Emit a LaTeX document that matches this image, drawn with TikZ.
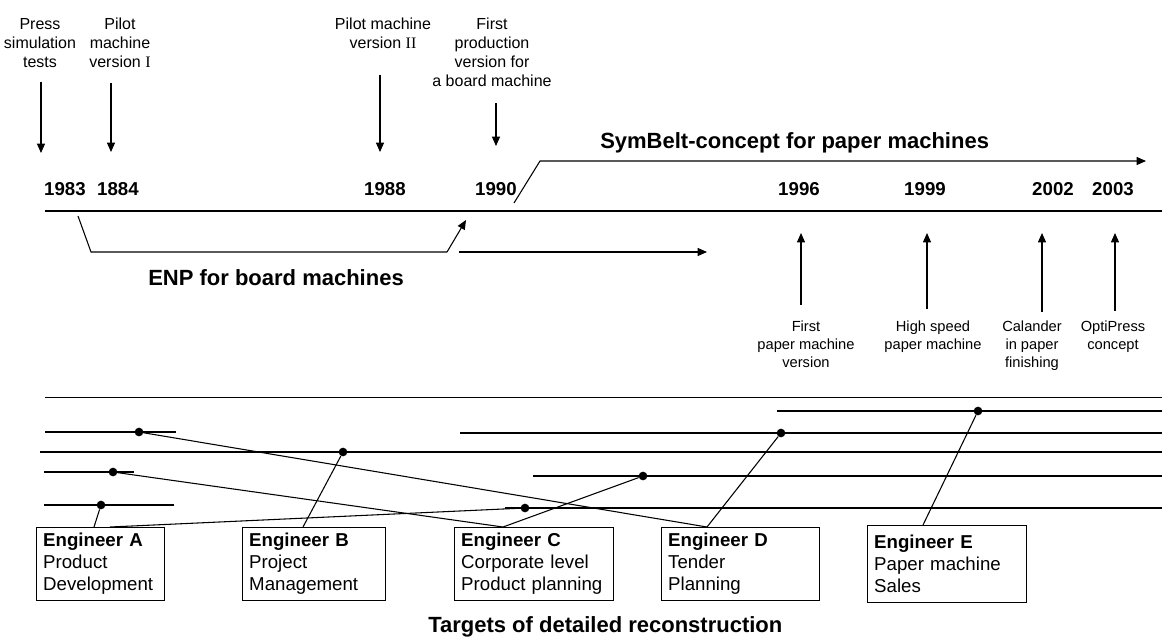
\documentclass[tikz,border=0pt]{standalone}
\usepackage{fontspec}
\setmainfont{Liberation Sans}
\newfontfamily\romnum{Liberation Serif}
\usetikzlibrary{arrows.meta,calc}

\begin{document}
\begin{tikzpicture}[
    x=0.75pt,y=-0.75pt,
    every node/.style={font=\fontsize{12}{14.25}\selectfont},
    evt/.style={align=center, inner sep=0pt, anchor=north},
    note/.style={align=center, inner sep=0pt, anchor=north, font=\fontsize{11}{13.5}\selectfont},
    year/.style={anchor=base, inner sep=0pt, font=\fontsize{14}{16}\selectfont\bfseries},
    title/.style={anchor=base west, inner sep=0pt, font=\fontsize{16.5}{19}\selectfont\bfseries},
    arr/.style={line width=0.8pt, -{Triangle[length=7pt,width=6pt]}},
    axis/.style={line width=1.6pt},
    track/.style={line width=1.4pt},
    link/.style={line width=0.8pt},
    dot/.style={circle, fill, inner sep=0pt, minimum size=6.5pt},
    eng/.style={draw, line width=0.8pt, anchor=north west, align=left, inner xsep=5pt, inner ysep=2pt, minimum height=54.75pt, font=\fontsize{14}{16.5}\selectfont}
]
    \useasboundingbox (0,0) rectangle (1164,640);

    \node[evt] (press) at (40,18) {Press\\simulation\\tests};
    \node[evt] (pilotI) at (120,18) {Pilot\\machine\\version {\romnum I}};
    \node[evt] (pilotII) at (383,18) {Pilot machine\\version {\romnum II}};
    \node[evt] (firstprod) at (492,18) {First\\production\\version for\\a board machine};

    \coordinate (tPress) at (41,153);
    \coordinate (tPilotI) at (111,152);
    \coordinate (tPilotII) at (380,152);
    \coordinate (tFirst) at (496,146);
    \draw[arr, shorten <=11pt] (press.south -| tPress) -- (tPress);
    \draw[arr, shorten <=11pt] (pilotI.south -| tPilotI) -- (tPilotI);
    \draw[arr, shorten <=19pt] (pilotII.south -| tPilotII) -- (tPilotII);
    \draw[arr, shorten <=12pt] (firstprod.south -| tFirst) -- (tFirst);

    \foreach \x/\yr in {65/1983,118/1884,385/1988,496/1990,799/1996,925/1999,1053/2002,1113/2003}
        \node[year] (y\yr) at (\x,195) {\yr};

    \draw[axis] (45,211) -- (1162,211);

    \node[title] (symbelt) at (600,148) {SymBelt-concept for paper machines};
    \draw[arr] (514,203) -- (540,161) -- (1146,161);

    \draw[link] (78,216) -- (91,252) -- (447,252);
    \draw[arr] (447,252) -- (466,220);
    \draw[arr] (459,252) -- (707,252);
    \node[title] (enp) at (148,285) {ENP for board machines};

    \node[note] (pm1) at (806,321) {First\\paper machine\\version};
    \node[note] (hs) at (933,321) {High speed\\paper machine};
    \node[note] (cal) at (1032,321) {Calander\\in paper\\finishing};
    \node[note] (opti) at (1113,321) {OptiPress\\concept};

    \foreach \lbl/\x/\gap in {pm1/801/12pt,hs/927/9pt,cal/1042/7pt,opti/1115/7.5pt} {
        \coordinate (t\lbl) at (\x,233);
        \draw[arr, shorten <=\gap] (\lbl.north -| t\lbl) -- (t\lbl);
    }

    \draw[line width=0.6pt] (45,397) -- (1162,397);

    \draw[track] (777,411) -- (1162,411);
    \draw[track] (45,432) -- (176,432);
    \draw[track] (460,433) -- (1162,433);
    \draw[track] (40,452) -- (1162,452);
    \draw[track] (44,472) -- (134,472);
    \draw[track] (533,476) -- (1162,476);
    \draw[track] (44,505) -- (174,505);
    \draw[track] (505,508) -- (1162,508);

    \node[dot] (dE) at (978,411) {};
    \node[dot] (dD1) at (139,432) {};
    \node[dot] (dD2) at (781,433) {};
    \node[dot] (dB) at (343,452) {};
    \node[dot] (dC1) at (113,472) {};
    \node[dot] (dC2) at (643,476) {};
    \node[dot] (dA1) at (101,505) {};
    \node[dot] (dA2) at (525,508) {};

    \node[eng, minimum width=96pt, text width=86pt] (engA) at (36,527) {\textbf{Engineer A}\\Product\\Development};
    \node[eng, minimum width=107.25pt, text width=97.25pt] (engB) at (242,527) {\textbf{Engineer B}\\Project\\Management};
    \node[eng, minimum width=119.25pt, text width=109.25pt] (engC) at (454,527) {\textbf{Engineer C}\\Corporate level\\Product planning};
    \node[eng, minimum width=118.5pt, text width=108.5pt] (engD) at (661,527) {\textbf{Engineer D}\\Tender\\Planning};
    \node[eng, minimum width=119.25pt, text width=109.25pt, minimum height=57.75pt] (engE) at (867,525) {\textbf{Engineer E}\\Paper machine\\Sales};

    \draw[link] ($(engA.north west)+(58,0)$) -- (dA1);
    \draw[link] ($(engA.north west)+(74,0)$) -- (dA2);
    \draw[link] ($(engB.north west)+(61,0)$) -- (dB);
    \draw[link] ($(engC.north west)+(49,0)$) -- (dC1);
    \draw[link] ($(engC.north west)+(49,0)$) -- (dC2);
    \draw[link] ($(engD.north west)+(46,0)$) -- (dD1);
    \draw[link] ($(engD.north west)+(46,0)$) -- (dD2);
    \draw[link] ($(engE.north west)+(56,0)$) -- (dE);

    \node[title] (targets) at (428,632) {Targets of detailed reconstruction};
\end{tikzpicture}
\end{document}
